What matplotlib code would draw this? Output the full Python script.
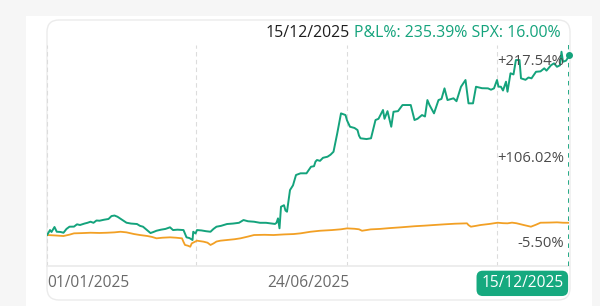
import numpy as np
import matplotlib
matplotlib.use("Agg")
import matplotlib.pyplot as plt
from matplotlib.patches import FancyBboxPatch, Rectangle

plt.rcParams['font.family'] = ['Open Sans', 'DejaVu Sans']

# ---------------- data ----------------
start_date = np.datetime64('2025-01-01')
end_date = np.datetime64('2025-12-15')

pnl_day = [0, 1, 2, 3, 5, 6.5, 9, 11, 13, 15, 18, 20, 22, 25, 27, 29, 31, 33, 35, 38, 41, 43, 45, 47,
           50, 53, 56, 60, 62, 64, 67, 69, 71, 73, 76, 79, 82, 84, 87, 91, 93, 95, 97, 97.5, 99, 100,
           103, 106, 109, 111, 113, 116, 120, 124, 128, 131, 134, 138, 142, 146, 149, 152, 153, 154,
           155, 156, 158, 159, 160, 161, 162, 164, 166, 169, 173, 176, 178, 179, 180, 182, 184, 187,
           189, 191, 193.5, 196, 199, 200, 202, 205, 207, 208, 209, 213, 216, 219, 221, 224, 225, 227,
           229.5, 231, 234, 237, 240, 242.5, 245, 247, 250, 252, 253.6, 255, 258, 261, 263, 265, 267,
           271, 273, 276, 279, 281, 284, 286, 290, 294, 296, 298, 300, 301, 302.6, 304, 306, 307, 309,
           311, 312.6, 315, 316, 319, 321, 323, 326, 329, 331.5, 333, 336, 338, 340, 342, 343, 344,
           346, 347, 348]
pnl_val = [0, 3, 6.5, 4, 10.5, 4.3, 4, 3, 8, 10.9, 11, 14, 13.1, 15, 16, 17.4, 16, 19, 18.7, 20, 21,
           24.8, 25.5, 23.9, 20, 16.1, 15, 14.4, 12, 10.9, 6, 2.6, 4, 5.6, 7, 8, 10.1, 6.5, 7, 6.5, -3,
           -4, -6.5, 4.3, 2, 6.5, 6, 5, 4.3, 8, 10.9, 12, 14.4, 15, 16, 19.6, 18, 17.4, 16, 16, 15.3,
           14.5, 16, 21.8, 8.8, 37, 39, 32, 30.5, 45, 58.8, 65, 78.5, 80.7, 80.7, 89.3, 90, 96, 98.1,
           97, 101, 102.4, 105, 108.9, 133, 159.1, 156.9, 150, 141.6, 140, 137.3, 130, 126.5, 125.5,
           126.5, 150.4, 152, 163.5, 152, 162, 141.6, 161.2, 162, 170, 170, 170, 150.4, 152, 156.9,
           155, 176.5, 170, 159.1, 176.5, 178, 191.8, 176.5, 178.8, 175, 193.9, 202.7, 172.2, 172.2,
           193.9, 192, 191.8, 190, 191.8, 202.7, 194, 193.9, 189, 200.5, 187.4, 211.5, 210, 228.8,
           228.8, 204.9, 203, 206, 204.9, 213.5, 214, 218, 215, 222, 224.5, 220, 222, 239.7, 226.6,
           228, 231, 235.39]

spx_day = [0, 5, 11, 15, 18, 23, 29, 35, 40, 45, 49, 53, 58, 62, 67, 70, 73, 77, 82, 86, 90, 91, 92,
           94, 95.5, 96.5, 100, 102, 104.4, 107, 109, 111, 113, 115.6, 120, 125, 129, 134, 138, 145,
           151, 158, 164.5, 169, 175.7, 182, 190, 196, 200, 205, 208, 210, 213, 215.8, 222, 228, 236,
           245, 252, 258, 265, 272, 280, 281, 282.6, 286, 289, 295, 300.4, 304, 307, 310, 313, 318,
           322.6, 326, 329, 335, 340, 344, 348]
spx_val = [0, -0.5, -1.3, 0.5, 2.2, 2.5, 3, 2.7, 3, 3.5, 4.3, 3.5, 1.3, 0, -1.3, -2.5, -4.3, -3.5,
           -3, -3.5, -4.3, -9, -13, -14, -15.3, -10.9, -7.4, -8, -8.7, -10, -13, -11, -8.5, -7.4,
           -6.5, -5.5, -4.3, -2, 0, 0.3, 0, 0.8, 1.3, 2.2, 4.3, 5.6, 6.5, 7.5, 8.7, 8.2, 7.5, 5.6,
           6.5, 7.4, 8, 9, 10.1, 11.5, 12.3, 13.1, 14, 14.8, 15.3, 13, 10.9, 12, 13.1, 14.5, 16.1,
           15.5, 15.3, 16.2, 15.4, 13, 10.9, 13.5, 16.1, 16.3, 16.6, 16.1, 16.0]

y_tick_values = [217.54, 106.02, -5.50]
y_tick_labels = ['+217.54%', '+106.02%', '-5.50%']
x_tick_labels = ['01/01/2025', '24/06/2025', '15/12/2025']
x_tick_dates = ['2025-01-01', '2025-06-24', '2025-12-15']
grid_dates = ['2025-01-01', '2025-04-10', '2025-07-20', '2025-10-28']
header_date = '15/12/2025'
header_pnl = 'P&L%: 235.39%'
header_spx = 'SPX: 16.00%'

GREEN = '#14a37c'
ORANGE = '#f2a025'

# ---------------- figure ----------------
W, H = 600, 306
fig = plt.figure(figsize=(W / 100, H / 100), dpi=100)
fig.patch.set_facecolor('#f6f6f6')

def fx(x):
    return x / W

def fy(y):
    return 1 - y / H

# white panel
fig.patches.append(Rectangle((fx(26), 0), fx(592) - fx(26), fy(16), transform=fig.transFigure,
                             facecolor='white', edgecolor='none', zorder=0))
# card
fig.patches.append(FancyBboxPatch((fx(47), fy(300)), fx(570) - fx(47), fy(20) - fy(300),
                                  boxstyle='round,pad=0,rounding_size=0.02',
                                  transform=fig.transFigure, facecolor='white',
                                  edgecolor='#ebebeb', linewidth=1.0, zorder=0.5,
                                  mutation_aspect=W / H))

ax = fig.add_axes([fx(47), fy(266), fx(569) - fx(47), fy(45) - fy(266)])
ax.set_zorder(3)
ax.set_facecolor('none')
ax.patch.set_alpha(0)
for s in ax.spines.values():
    s.set_visible(False)
ax.set_xticks([])
ax.set_yticks([])

pnl_x = start_date + (np.array(pnl_day) * 24 * 3600).astype('timedelta64[s]')
spx_x = start_date + (np.array(spx_day) * 24 * 3600).astype('timedelta64[s]')

ax.set_xlim(start_date, end_date)
ax.set_ylim(-40.5, 248.5)

# grid
for d in grid_dates:
    ax.axvline(np.datetime64(d), color='#dcdcdc', linestyle=(0, (4, 3)), linewidth=0.8, zorder=1)
ax.axhline(-40.5, color='#eaeaea', linewidth=1.2, zorder=1, clip_on=False)

ax.plot(spx_x, spx_val, color=ORANGE, linewidth=1.3, zorder=3, solid_joinstyle='round')
ax.plot(pnl_x, pnl_val, color=GREEN, linewidth=1.4, zorder=4, solid_joinstyle='round')

# crosshair
ax.axvline(end_date, color=GREEN, linestyle=(0, (2.5, 2.5)), linewidth=1.3, zorder=5)
ax.plot([end_date], [pnl_val[-1]], 'o', color=GREEN, markersize=4, zorder=6, clip_on=False)

# y labels
offsets = [5, -3, -3]
for v, lab, off in zip(y_tick_values, y_tick_labels, offsets):
    ax.annotate(lab, xy=(1, v), xycoords=('axes fraction', 'data'), xytext=(-3.5, off),
                textcoords='offset points', ha='right', va='center', fontsize=10.6,
                color='#4a4a4a', zorder=7)

# x labels
XFS = 11.2
ax.annotate(x_tick_labels[0], xy=(np.datetime64(x_tick_dates[0]), 0), xycoords=('data', 'axes fraction'),
            xytext=(0, -12.5), textcoords='offset points', ha='left', va='center',
            fontsize=XFS, color='#6a6a6a', annotation_clip=False)
ax.annotate(x_tick_labels[1], xy=(np.datetime64(x_tick_dates[1]), 0), xycoords=('data', 'axes fraction'),
            xytext=(0, -12.5), textcoords='offset points', ha='center', va='center',
            fontsize=XFS, color='#6a6a6a', annotation_clip=False)
ax.annotate(x_tick_labels[2], xy=(np.datetime64(x_tick_dates[2]), 0), xycoords=('data', 'axes fraction'),
            xytext=(-4, -12.5), textcoords='offset points', ha='right', va='center',
            fontsize=XFS, color='white', annotation_clip=False,
            bbox=dict(boxstyle='round,pad=0.3,rounding_size=0.4', facecolor='#16a97f',
                      edgecolor='none'))

# header
t_green = fig.text(fx(561), fy(33), header_pnl + ' ' + header_spx, ha='right', va='center',
                   fontsize=11.4, color=GREEN, zorder=5)
ax.annotate(header_date, xy=(0, 0.5), xycoords=t_green, xytext=(-3.5, 0),
            textcoords='offset points', ha='right', va='center', fontsize=11.4,
            color='#1e1e1e', annotation_clip=False)

fig.savefig('out.png', dpi=100, facecolor=fig.get_facecolor())
